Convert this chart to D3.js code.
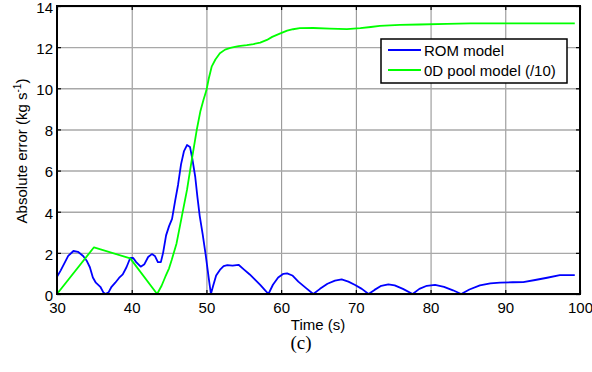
<!DOCTYPE html>
<html>
<head>
<meta charset="utf-8">
<script src="https://cdn.jsdelivr.net/npm/d3@7"></script>
<style>
    html, body { margin: 0; padding: 0; background: #fff; }
    svg { display: block; font-family: Arial, "Liberation Sans", sans-serif; }
</style>
</head>
<body>
<svg id="chart" width="592" height="372"></svg>
<script>
"use strict";

// ROM model absolute error
const romTime = [30.0, 30.5, 31.0, 31.5, 32.2, 32.8, 33.5, 34.0, 34.4, 34.8, 35.2, 35.8, 36.2, 36.5, 36.9,
    37.3, 37.8, 38.3, 38.8, 39.3, 39.8, 40.2, 40.6, 41.2, 41.7, 42.2, 42.7, 43.1, 43.5, 43.9, 44.2, 44.6,
    45.0, 45.4, 45.8, 46.2, 46.6, 47.0, 47.4, 47.8, 48.1, 48.5, 48.8, 49.1, 49.5, 49.9, 50.3, 50.6, 50.9,
    51.3, 51.8, 52.3, 52.8, 53.5, 54.3, 55.0, 55.8, 56.5, 57.2, 57.8, 58.3, 58.9, 59.6, 60.3, 60.8, 61.5,
    62.3, 63.3, 64.3, 65.2, 66.2, 67.2, 68.1, 69.0, 69.9, 70.8, 71.7, 72.5, 73.4, 74.35, 75.2, 76.3, 77.6,
    78.5, 79.5, 80.6, 81.8, 83.0, 84.1, 85.2, 86.6, 88.0, 89.3, 91.0, 92.4, 94.0, 95.6, 97.3, 99.3];
const romValue = [0.84, 1.15, 1.5, 1.85, 2.09, 2.05, 1.85, 1.6, 1.3, 0.8, 0.55, 0.35, 0.08, 0.0, 0.08,
    0.35, 0.55, 0.78, 0.95, 1.3, 1.75, 1.75, 1.55, 1.33, 1.45, 1.8, 1.94, 1.85, 1.55, 1.55, 2.0, 2.85,
    3.3, 3.65, 4.5, 5.3, 6.3, 6.95, 7.24, 7.15, 6.6, 5.7, 4.7, 3.8, 2.9, 1.9, 0.8, 0.0, 0.4,
    0.9, 1.17, 1.35, 1.4, 1.38, 1.42, 1.2, 0.95, 0.7, 0.44, 0.2, 0.0, 0.45, 0.8, 0.98, 1.0, 0.9,
    0.6, 0.3, 0.0, 0.25, 0.5, 0.65, 0.71, 0.6, 0.44, 0.25, 0.0, 0.2, 0.4, 0.47, 0.42, 0.25, 0.0,
    0.25, 0.4, 0.44, 0.35, 0.18, 0.0, 0.22, 0.42, 0.52, 0.55, 0.57, 0.58, 0.68, 0.79, 0.92, 0.92];

// 0D pool model absolute error divided by 10
const poolTime = [30.0, 34.95, 39.8, 43.4, 44.0, 44.5, 45.0, 45.35, 46.0, 46.7, 47.4, 48.0, 48.7, 49.2,
    49.6, 50.0, 50.3, 50.7, 51.2, 51.8, 52.5, 53.2, 54.3, 55.4, 56.3, 57.2, 58.1, 58.8, 59.9, 60.8, 61.6,
    62.5, 64.3, 66.5, 68.8, 70.6, 72.0, 73.2, 75.9, 78.5, 82.2, 85.3, 90.0, 95.0, 99.3];
const poolValue = [0.0, 2.27, 1.73, 0.0, 0.4, 0.84, 1.25, 1.65, 2.46, 3.76, 5.06, 6.43, 7.97, 8.9,
    9.43, 9.9, 10.45, 11.05, 11.4, 11.7, 11.88, 11.96, 12.05, 12.1, 12.15, 12.22, 12.35, 12.5, 12.67, 12.8, 12.87,
    12.92, 12.93, 12.9, 12.88, 12.92, 12.98, 13.03, 13.08, 13.1, 13.13, 13.16, 13.16, 13.16, 13.16];

const xTicks = [30, 40, 50, 60, 70, 80, 90, 100];
const yTicks = [0, 2, 4, 6, 8, 10, 12, 14];
const seriesNames = ["ROM model", "0D pool model (/10)"];
const seriesColors = ["#0000ff", "#00ff00"];

const FONT_SIZE = 15;

function main() {
    const svg = d3.select("#chart");
    const plot = {left: 57, top: 6, right: 580, bottom: 294};

    const x = d3.scaleLinear().domain([30, 100]).range([plot.left, plot.right]);
    const y = d3.scaleLinear().domain([0, 14]).range([plot.bottom, plot.top]);
    const plotHeight = plot.bottom - plot.top;
    const plotWidth = plot.right - plot.left;

    // grid
    svg.append("g")
        .attr("transform", `translate(0,${plot.bottom})`)
        .call(d3.axisBottom(x).tickValues(xTicks).tickSize(-plotHeight).tickFormat(""))
        .call(g => g.select(".domain").remove())
        .call(g => g.selectAll("line").attr("stroke", "#8c8c8c").attr("stroke-width", 1));
    svg.append("g")
        .attr("transform", `translate(${plot.left},0)`)
        .call(d3.axisLeft(y).tickValues(yTicks).tickSize(-plotWidth).tickFormat(""))
        .call(g => g.select(".domain").remove())
        .call(g => g.selectAll("line").attr("stroke", "#a8a8a8").attr("stroke-width", 1.4));

    // series
    const series = [
        romTime.map((t, i) => [t, romValue[i]]),
        poolTime.map((t, i) => [t, poolValue[i]]),
    ];
    const line = d3.line()
        .x(d => x(d[0]))
        .y(d => y(d[1]))
        .curve(d3.curveLinear);

    svg.append("g")
        .selectAll("path")
        .data(series)
        .join("path")
        .attr("d", line)
        .attr("fill", "none")
        .attr("stroke", (d, i) => seriesColors[i])
        .attr("stroke-width", 1.8)
        .attr("stroke-linejoin", "round");

    // axes with ticks pointing inward
    const bottomAxis = d3.axisBottom(x).tickValues(xTicks).tickSizeInner(-4).tickSizeOuter(0).tickPadding(8);
    const leftAxis = d3.axisLeft(y).tickValues(yTicks).tickSizeInner(-4).tickSizeOuter(0).tickPadding(4);
    const topAxis = d3.axisTop(x).tickValues(xTicks).tickSizeInner(-4).tickSizeOuter(0).tickFormat("");
    const rightAxis = d3.axisRight(y).tickValues(yTicks).tickSizeInner(-4).tickSizeOuter(0).tickFormat("");

    const styleAxis = g => {
        g.select(".domain").remove();
        g.selectAll("line").attr("stroke", "#000").attr("stroke-width", 1.2);
        g.selectAll("text")
            .attr("fill", "#000")
            .style("font-size", `${FONT_SIZE}px`)
            .style("font-family", "Arial, 'Liberation Sans', sans-serif");
    };

    svg.append("g").attr("transform", `translate(0,${plot.bottom})`).call(bottomAxis).call(styleAxis);
    svg.append("g").attr("transform", `translate(${plot.left},0)`).call(leftAxis).call(styleAxis)
        .call(g => g.selectAll("text").attr("dy", "0.42em"));
    svg.append("g").attr("transform", `translate(0,${plot.top})`).call(topAxis).call(styleAxis);
    svg.append("g").attr("transform", `translate(${plot.right},0)`).call(rightAxis).call(styleAxis);

    svg.append("rect")
        .attr("x", plot.left)
        .attr("y", plot.top)
        .attr("width", plotWidth)
        .attr("height", plotHeight)
        .attr("fill", "none")
        .attr("stroke", "#000")
        .attr("stroke-width", 2);

    // axis labels
    svg.append("text")
        .attr("x", 318)
        .attr("y", 330)
        .attr("text-anchor", "middle")
        .style("font-size", `${FONT_SIZE}px`)
        .text("Time (s)");

    const yLabel = svg.append("text")
        .attr("transform", "translate(27,151) rotate(-90)")
        .attr("text-anchor", "middle")
        .style("font-size", `${FONT_SIZE}px`);
    yLabel.append("tspan").text("Absolute error (kg s");
    yLabel.append("tspan").attr("dy", -6).style("font-size", "10px").text("-1");
    yLabel.append("tspan").attr("dy", 6).text(")");

    svg.append("text")
        .attr("x", 301)
        .attr("y", 349)
        .attr("text-anchor", "middle")
        .style("font-family", "'Liberation Serif', serif")
        .style("font-size", "19px")
        .text("(c)");

    drawLegend(svg);
}

function drawLegend(svg) {
    const legend = svg.append("g").attr("transform", "translate(381,39)");
    legend.append("rect")
        .attr("width", 186)
        .attr("height", 44)
        .attr("fill", "#fff")
        .attr("stroke", "#000")
        .attr("stroke-width", 1.5);

    seriesNames.forEach((name, i) => {
        const rowY = 11 + i * 20;
        legend.append("line")
            .attr("x1", 7)
            .attr("x2", 40)
            .attr("y1", rowY)
            .attr("y2", rowY)
            .attr("stroke", seriesColors[i])
            .attr("stroke-width", 1.8);
        legend.append("text")
            .attr("x", 43)
            .attr("y", rowY + 6)
            .style("font-size", `${FONT_SIZE}px`)
            .text(name);
    });
}

main();
</script>
</body>
</html>
